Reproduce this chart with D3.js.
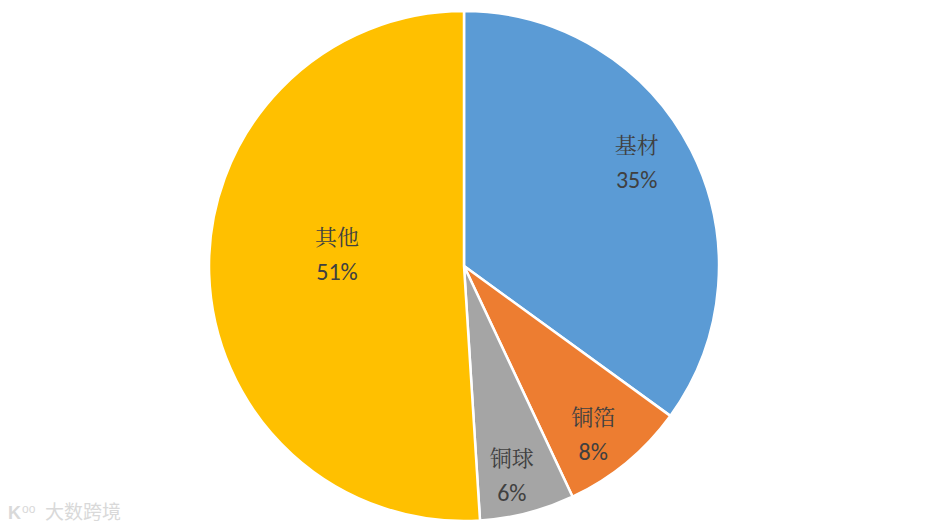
<!DOCTYPE html>
<html>
<head>
<meta charset="utf-8">
<script src="https://cdn.jsdelivr.net/npm/d3@7"></script>
<style>
  body { margin: 0; background: #fff; }
</style>
</head>
<body>
<div class="canvas"></div>
<script>
// data
const categories = ['基材', '铜箔', '铜球', '其他'];
const values = [35, 8, 6, 51];
const colors = ['#5b9bd5', '#ed7d31', '#a5a5a5', '#ffc000'];

const width = 929, height = 528;
const cx = 464, cy = 266, radius = 255;

// label radius as a share of the pie radius (Excel "best fit" look)
const labelRadius = [0.79, 0.83, 0.84, 0.5];
const labelNudge = [-4, 2, 1.5, 7]; // degrees

const svg = d3.select('.canvas').append('svg')
  .attr('width', width).attr('height', height);

const pie = d3.pie().sort(null).value(d => d);
const arcs = pie(values);

const arc = d3.arc().innerRadius(0).outerRadius(radius);

const g = svg.append('g').attr('transform', `translate(${cx},${cy})`);

g.selectAll('path')
  .data(arcs)
  .enter()
  .append('path')
  .attr('d', arc)
  .attr('fill', (d, i) => colors[i])
  .attr('stroke', '#fff')
  .attr('stroke-width', 2.5)
  .attr('stroke-linejoin', 'round');

// labels
const labels = g.selectAll('g.lbl')
  .data(arcs)
  .enter()
  .append('g')
  .attr('class', 'lbl')
  .attr('transform', (d, i) => {
    const a = (d.startAngle + d.endAngle) / 2 + labelNudge[i] * Math.PI / 180;
    const r = radius * labelRadius[i];
    return `translate(${r * Math.sin(a)},${-r * Math.cos(a)})`;
  });

labels.append('text')
  .attr('text-anchor', 'middle')
  .attr('y', -9)
  .attr('fill', '#404040')
  .style('font-family', '"Noto Serif CJK SC", "Noto Sans CJK SC", sans-serif')
  .style('font-size', '22px')
  .text((d, i) => categories[i]);

labels.append('text')
  .attr('text-anchor', 'middle')
  .attr('y', 26)
  .attr('fill', '#404040')
  .style('font-family', 'Carlito, "Liberation Sans", sans-serif')
  .style('font-size', '24px')
  .text(d => d.data + '%');

// watermark
const wm = svg.append('g').attr('transform', 'translate(8,519)');
wm.append('text')
  .attr('x', 0)
  .attr('fill', '#d9d9d9')
  .style('font-family', '"Liberation Sans", sans-serif')
  .style('font-size', '18px')
  .style('font-weight', 'bold')
  .text('K');
wm.append('text')
  .attr('x', 14)
  .attr('y', -6)
  .attr('fill', '#d9d9d9')
  .style('font-family', '"Liberation Sans", sans-serif')
  .style('font-size', '12px')
  .text('oo');
wm.append('text')
  .attr('x', 37)
  .attr('fill', '#d9d9d9')
  .style('font-family', '"Noto Sans CJK SC", sans-serif')
  .style('font-size', '19px')
  .text('大数跨境');
</script>
</body>
</html>
